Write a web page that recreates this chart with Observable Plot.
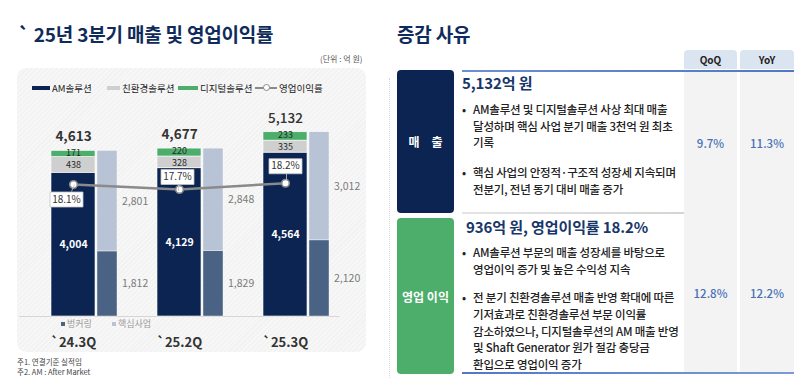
<!DOCTYPE html>
<html><head><meta charset="utf-8">
<script src="https://cdn.jsdelivr.net/npm/d3@7"></script>
<script src="https://cdn.jsdelivr.net/npm/@observablehq/plot@0.6"></script>
<style>
html,body{margin:0;padding:0;}
body{width:800px;height:382px;position:relative;overflow:hidden;background:#fff;font-family:"Noto Sans CJK KR","Noto Sans",sans-serif;color:#333;}
.a{position:absolute;white-space:nowrap;}
.title{font-size:19px;font-weight:700;color:#0f2b5b;letter-spacing:-0.2px;}
.panel{left:17px;top:68px;width:349px;height:284px;border-radius:9px;background:repeating-linear-gradient(135deg,#f2f2f2 0 1.5px,#f7f7f7 1.5px 3.5px);}
.lg{font-size:9.5px;color:#222;line-height:12px;}
.sw{position:absolute;height:4px;}
.mini{font-size:9px;color:#9a9a9a;line-height:12px;}
.note{font-size:7.5px;color:#444;line-height:10px;}
.hdr{top:50px;height:19px;background:#dbe5f2;border-radius:4px 4px 0 0;font-size:10px;font-weight:700;color:#222;text-align:center;line-height:19px;}
.col{top:70px;height:302px;background:#f3f3f3;}
.lab{left:397px;width:57px;border-radius:4px;color:#fff;font-weight:700;font-size:12px;display:flex;align-items:center;justify-content:center;}
.head{font-size:15px;font-weight:700;color:#17366a;line-height:18px;letter-spacing:-0.1px;}
.bul{font-size:11.5px;color:#222;font-weight:500;padding-left:11px;letter-spacing:-0.2px;}
.bul:before{content:"•";position:absolute;left:0;top:0;}
.val{font-size:11.5px;color:#4770b5;font-weight:500;text-align:center;line-height:14px;}
</style></head>
<body>
<div class="a title" style="left:18px;top:20px;">` 25년 3분기 매출 및 영업이익률</div>
<div class="a" style="left:320px;top:53px;font-size:8px;color:#555;">(단위 : 억 원)</div>
<div class="a panel"></div>

<!-- legend -->
<div class="sw" style="left:32px;top:86px;width:18px;background:#0b2452;"></div>
<div class="a lg" style="left:52px;top:82px;">AM솔루션</div>
<div class="sw" style="left:107px;top:86px;width:13px;background:#cfcfcf;"></div>
<div class="a lg" style="left:122px;top:82px;">친환경솔루션</div>
<div class="sw" style="left:178px;top:86px;width:20px;background:#4cae6a;"></div>
<div class="a lg" style="left:200px;top:82px;">디지털솔루션</div>
<div class="sw" style="left:255px;top:87px;width:22px;height:2px;background:#8a8a8a;"></div>
<div class="a" style="left:263px;top:84px;width:5px;height:5px;border:1.2px solid #8a8a8a;border-radius:50%;background:#fff;"></div>
<div class="a lg" style="left:279px;top:82px;">영업이익률</div>

<div id="chart" class="a" style="left:17px;top:68px;width:349px;height:284px;"></div>
<div id="overlay" class="a" style="left:17px;top:68px;width:349px;height:284px;pointer-events:none;"></div>

<!-- mini legend -->
<div class="a" style="left:61px;top:322px;width:4px;height:4px;background:#4a6283;"></div>
<div class="a mini" style="left:67px;top:318px;">벙커링</div>
<div class="a" style="left:112px;top:322px;width:4px;height:4px;background:#b8c4d6;"></div>
<div class="a mini" style="left:118px;top:318px;">핵심사업</div>

<div class="a note" style="left:17px;top:357px;">주1. 연결기준 실적임</div>
<div class="a note" style="left:17px;top:367px;">주2. AM : After Market</div>

<!-- right side -->
<div class="a" style="left:389px;top:78px;height:300px;border-left:1px dotted #d8d8d8;"></div>
<div class="a title" style="left:397px;top:20px;">증감 사유</div>
<div class="a hdr" style="left:684px;width:53px;">QoQ</div>
<div class="a hdr" style="left:740px;width:54px;">YoY</div>
<div class="a col" style="left:684px;width:53px;"></div>
<div class="a col" style="left:740px;width:54px;"></div>
<div class="a" style="left:462px;top:70px;width:332px;height:2px;background:linear-gradient(90deg,#6c8fd0,#4f78c6);"></div>
<div class="a" style="left:462px;top:212px;width:222px;height:2px;background:linear-gradient(90deg,#e4e4e4,#d4d4d4);"></div>
<div class="a" style="left:462px;top:372px;width:332px;height:2px;background:linear-gradient(90deg,#4f78c6,#7d9ad6);"></div>

<div class="a lab" style="top:70px;height:143px;background:#0b2452;letter-spacing:12px;padding-left:12px;box-sizing:border-box;">매출</div>
<div class="a lab" style="top:218px;height:156px;background:#4cae6a;">영업 이익</div>

<div class="a head" style="left:462px;top:74px;">5,132억 원</div>
<div class="a bul" style="left:462px;top:101px;line-height:16.5px;">AM솔루션 및 디지털솔루션 사상 최대 매출<br>달성하며 핵심 사업 분기 매출 3천억 원 최초<br>기록</div>
<div class="a bul" style="left:462px;top:164px;line-height:17px;">핵심 사업의 안정적·구조적 성장세 지속되며<br>전분기, 전년 동기 대비 매출 증가</div>
<div class="a val" style="left:684px;top:136px;width:53px;">9.7%</div>
<div class="a val" style="left:740px;top:136px;width:54px;">11.3%</div>

<div class="a head" style="left:466px;top:218px;">936억 원, 영업이익률 18.2%</div>
<div class="a bul" style="left:462px;top:244px;line-height:17px;">AM솔루션 부문의 매출 성장세를 바탕으로<br>영업이익 증가 및 높은 수익성 지속</div>
<div class="a bul" style="left:462px;top:289px;line-height:16.8px;">전 분기 친환경솔루션 매출 반영 확대에 따른<br>기저효과로 친환경솔루션 부문 이익률<br>감소하였으나, 디지털솔루션의 AM 매출 반영<br>및 Shaft Generator 원가 절감 충당금<br>환입으로 영업이익 증가</div>
<div class="a val" style="left:684px;top:286px;width:53px;">12.8%</div>
<div class="a val" style="left:740px;top:286px;width:54px;">12.2%</div>

<script>
const quarters = ["`24.3Q", "`25.2Q", "`25.3Q"];
const amSolution = [4004, 4129, 4564];
const ecoSolution = [438, 328, 335];
const digitalSolution = [171, 220, 233];
const totalSales = [4613, 4677, 5132];
const bunkering = [1812, 1829, 2120];
const coreBusiness = [2801, 2848, 3012];
const opMargin = [18.1, 17.7, 18.2];

const segs = ["AM솔루션", "친환경솔루션", "디지털솔루션"];
const sideSegs = ["벙커링", "핵심사업"];
const colorDomain = [...segs, ...sideSegs];
const colorRange = ["#0b2452", "#cfcfcf", "#4cae6a", "#4a6283", "#b8c4d6"];

const mainRows = quarters.flatMap((q, i) => [
  {q, seg: segs[0], v: amSolution[i]},
  {q, seg: segs[1], v: ecoSolution[i]},
  {q, seg: segs[2], v: digitalSolution[i]}
]);
const sideRows = quarters.flatMap((q, i) => [
  {q, seg: sideSegs[0], v: bunkering[i]},
  {q, seg: sideSegs[1], v: coreBusiness[i]}
]);
const totals = quarters.map((q, i) => ({q, v: totalSales[i], last: i === quarters.length - 1}));
const margins = quarters.map((q, i) => ({q, m: opMargin[i], i}));

const fmt = d3.format(",");
const font = '"Noto Sans CJK KR", "Noto Sans", sans-serif';
const common = {
  width: 349, height: 284,
  marginLeft: 2, marginRight: 26.5, marginTop: 48, marginBottom: 36,
  style: {background: "transparent", fontFamily: font, color: "#333", overflow: "visible"}
};
const segLabel = (seg, extra) => Plot.text(mainRows, Plot.filter(d => d.seg === seg,
  Plot.stackY({x: "q", y: "v", z: "seg", text: d => fmt(d.v), ...extra})));

const chart = Plot.plot({
  ...common,
  x: {type: "band", domain: quarters, padding: 0},
  y: {domain: [0, 5571], axis: null},
  color: {domain: colorDomain, range: colorRange},
  marks: [
    Plot.ruleY([0], {stroke: "#d6d6d6", strokeWidth: 1.2}),
    Plot.barY(mainRows, {x: "q", y: "v", fill: "seg", insetLeft: 31, insetRight: 31, stroke: "#ffffff", strokeWidth: 0.6}),
    Plot.barY(sideRows, {x: "q", y: "v", fill: "seg", insetLeft: 77, insetRight: 9, stroke: "#ffffff", strokeWidth: 0.4}),
    segLabel(segs[0], {fill: "white", fontWeight: "bold", fontSize: 10.5}),
    segLabel(segs[1], {fill: "#2a2a2a", fontSize: 9, dy: 0.5}),
    segLabel(segs[2], {fill: "#2a2a2a", fontSize: 9, dy: -1}),
    Plot.text(sideRows, Plot.stackY({x: "q", y: "v", z: "seg", text: d => fmt(d.v), fill: "#7a7a7a", fontSize: 10.5, textAnchor: "start", dx: 48.5})),
    Plot.text(totals, {filter: d => !d.last, x: "q", y: "v", text: d => fmt(d.v), dy: -14, fontSize: 13.5, fontWeight: "bold", fill: "#333"}),
    Plot.text(totals, {filter: d => d.last, x: "q", y: "v", text: d => fmt(d.v), dy: -14, fontSize: 13.5, fontWeight: 500, fill: "#333"}),
    Plot.axisX({tickSize: 0, tickPadding: 21, fontSize: 13, fontWeight: "bold", fill: "#333", label: null})
  ]
});
document.getElementById("chart").appendChild(chart);

// label boxes: custom symbols drawn around each margin point
const boxBelow = {draw(ctx) { ctx.moveTo(5, -8); ctx.lineTo(8, -15); ctx.rect(-16.5, -7.5, 33, 15); }};
const boxAbove = {draw(ctx) { ctx.moveTo(1, 7.5); ctx.lineTo(1, 14); ctx.rect(-16.5, -7.5, 33, 15); }};
const marginLabel = (idx, symbol, dx, dy) => [
  Plot.dot(margins, {filter: d => d.i === idx, x: "q", y: "m", symbol, fill: "white", stroke: "#c4c4c4", strokeWidth: 0.8, dx, dy}),
  Plot.text(margins, {filter: d => d.i === idx, x: "q", y: "m", text: d => d.m.toFixed(1) + "%", dx, dy, fontSize: 10, fill: "#333"})
];

const overlay = Plot.plot({
  ...common,
  x: {type: "band", domain: quarters, padding: 0, axis: null},
  y: {domain: [7.54, 23.54], axis: null},
  marks: [
    Plot.line(margins, {x: "q", y: "m", stroke: "#8a8a8a", strokeWidth: 2.5}),
    Plot.dot(margins, {x: "q", y: "m", r: 3.8, fill: "white", stroke: "#8a8a8a", strokeWidth: 1.6}),
    marginLabel(0, boxBelow, -7, 15),
    marginLabel(1, boxAbove, -2, -12.5),
    marginLabel(2, boxAbove, 0, -17)
  ]
});
document.getElementById("overlay").appendChild(overlay);
</script>
</body></html>
